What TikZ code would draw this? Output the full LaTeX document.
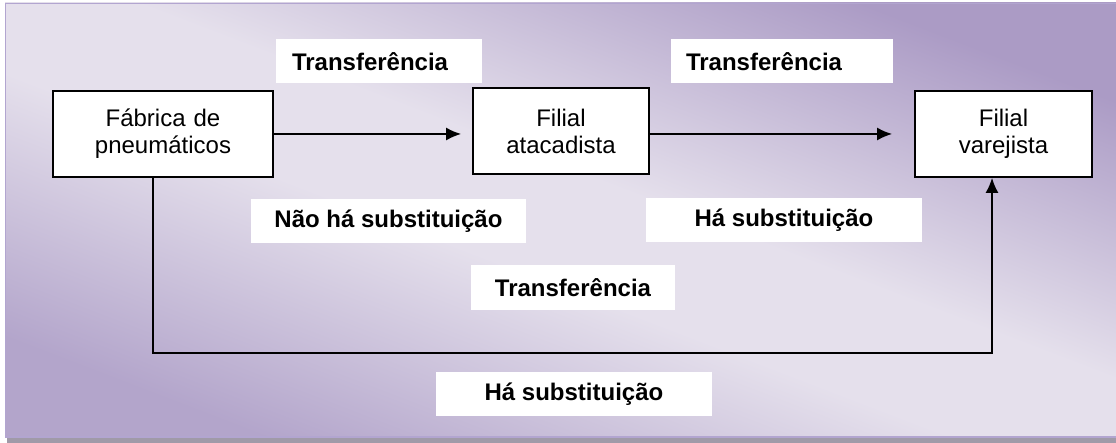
\documentclass[tikz,border=0pt]{standalone}
\usepackage{fontspec}
\setmainfont{Liberation Sans}
\usetikzlibrary{arrows.meta}

\definecolor{fundoclaro}{HTML}{E5E0EC}
\definecolor{fundoescuro}{HTML}{AB9BC5}
\definecolor{fundomedio}{HTML}{B3A5CB}
\definecolor{moldura}{HTML}{B2A5D0}
\definecolor{sombra}{HTML}{A09AA8}

\pgfdeclareverticalshading{fundo}{100bp}{color(0bp)=(fundomedio); color(25bp)=(fundomedio);
  color(45bp)=(fundoclaro); color(54bp)=(fundoclaro); color(75bp)=(fundoescuro);
  color(100bp)=(fundoescuro)}

\tikzstyle{caixa} = [ draw,fill=white,line width=0.9pt,align=center,inner sep=0pt,
                      minimum height=43pt,font=\fontsize{12}{13.5}\selectfont]
\tikzstyle{rotulo} = [ fill=white,inner sep=0pt,minimum height=22pt,
                       font=\fontsize{12}{14}\selectfont\bfseries]
\tikzstyle{seta} = [ line width=0.8pt,-{Latex[length=7.5pt,width=6.5pt]}]

\begin{document}
\begin{tikzpicture}[x=0.5pt,y=-0.5pt]
  \useasboundingbox (0,0) rectangle (1116,443);
  % fundo
  \fill[sombra] (7,437) rectangle (1116,443);
  \shade[shading=fundo,shading angle=-21] (5,3) rectangle (1122,437.5);
  \draw[moldura,line width=0.7pt] (1122,3.5) -- (5.5,3.5) -- (5.5,437) -- (1122,437);

  \node[caixa,text width=110pt]  at (163,134)    (fab) {Fábrica de \\ pneumáticos};
  \node[caixa,text width=88pt]   at (561,131)    (ata) {Filial \\ atacadista};
  \node[caixa,text width=88.5pt] at (1003.5,134) (var) {Filial \\ varejista};

  \node[rotulo,inner xsep=8pt,text width=87pt,align=left]   at (379,61.5) (tr1) {Transferência};
  \node[rotulo,inner xsep=7.5pt,text width=96pt,align=left] at (782,61.5) (tr2) {Transferência};
  \node[rotulo,minimum width=137.5pt] at (388.5,221) (nsub) {Não há substituição};
  \node[rotulo,minimum width=138pt]   at (784,220.5) (sub1) {Há substituição};
  \node[rotulo,minimum width=102pt,minimum height=22.5pt] at (573,287.5) (tr3) {Transferência};
  \node[rotulo,minimum width=138pt]   at (574,394)   (sub2) {Há substituição};

  \draw[seta,shorten >=5.5pt] (fab) -- (fab -| ata.west);
  \draw[seta,shorten >=11pt] (ata.east |- fab) -- (var.west |- fab);
  \draw[seta] ([xshift=-5pt]fab.south) -- ++(0,175) -| ([xshift=-5.75pt]var.south);
\end{tikzpicture}
\end{document}
